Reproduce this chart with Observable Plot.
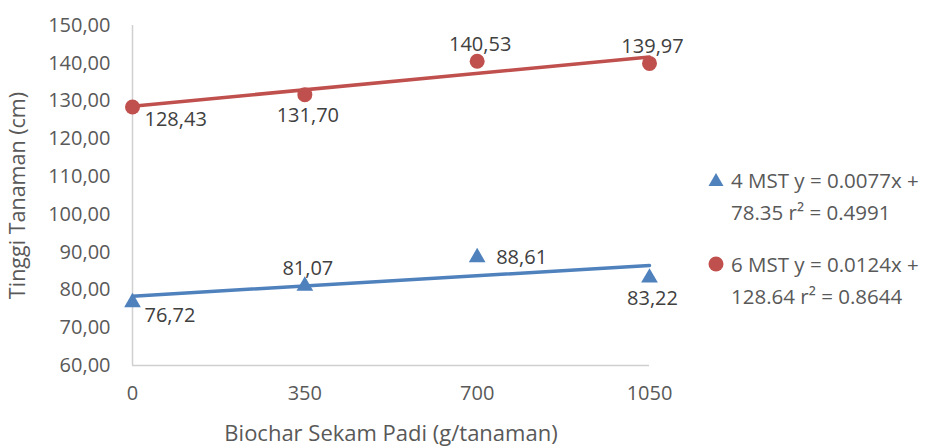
<!DOCTYPE html>
<html>
<head>
<meta charset="utf-8">
<script src="https://cdn.jsdelivr.net/npm/d3@7"></script>
<script src="https://cdn.jsdelivr.net/npm/@observablehq/plot@0.6"></script>
<style>
  html, body { margin: 0; padding: 0; background: #fff; }
  #wrap { position: relative; width: 926px; height: 448px; font-family: "Open Sans", sans-serif; }
  #legend { position: absolute; left: 708px; top: 164px; color: #595959; font-size: 20.5px; line-height: 32px; white-space: nowrap; }
  .item { position: relative; padding-left: 23px; margin-bottom: 20px; }
  .sym { position: absolute; left: 0; top: 8px; }
</style>
</head>
<body>
<div id="wrap"></div>
<script>
// ---- data ----
const doses = [0, 350, 700, 1050];                 // Biochar Sekam Padi (g/tanaman)
const mst4 = [76.72, 81.07, 88.61, 83.22];         // 4 MST
const mst6 = [128.43, 131.70, 140.53, 139.97];     // 6 MST
const seriesNames = ["4 MST", "6 MST"];
const legendTexts = ["4 MST y = 0.0077x +\n78.35 r\u00B2 = 0.4991", "6 MST y = 0.0124x +\n128.64 r\u00B2 = 0.8644"];
const yTicks = [60, 70, 80, 90, 100, 110, 120, 130, 140, 150];

// label placement (style only)
const place4 = ["belowright", "above", "right", "below"];
const place6 = ["belowright", "below", "above", "above"];

const blue = "#4F81BD", red = "#C0504D", grey = "#595959";

const rows = [];
doses.forEach((d, i) => {
  rows.push({x: d, y: mst4[i], s: seriesNames[0], place: place4[i]});
  rows.push({x: d, y: mst6[i], s: seriesNames[1], place: place6[i]});
});
const r4 = rows.filter(r => r.s === seriesNames[0]);
const r6 = rows.filter(r => r.s === seriesNames[1]);

const fmt = d3.formatLocale({decimal: ",", thousands: ".", grouping: [3], currency: ["", ""]}).format(".2f");

const labelMarks = [];
const placeOpts = {
  above: {textAnchor: "middle", dx: 3, dy: -17},
  below: {textAnchor: "middle", dx: 3, dy: 21},
  right: {textAnchor: "start", dx: 19, dy: 0},
  belowright: {textAnchor: "start", dx: 12, dy: 13}
};
for (const [p, o] of Object.entries(placeOpts)) {
  labelMarks.push(Plot.text(rows.filter(r => r.place === p), {
    x: "x", y: "y", text: d => fmt(d.y), fill: "#404040", fontSize: 20, ...o
  }));
}

const chart = Plot.plot({
  width: 926,
  height: 448,
  marginLeft: 132,
  marginRight: 277,
  marginTop: 25,
  marginBottom: 83,
  style: {fontFamily: "Open Sans, sans-serif", fontSize: "20px", color: grey, background: "#fff"},
  x: {domain: [0, 1050], ticks: doses, tickFormat: d => String(d), tickSize: 0, tickPadding: 20, label: null},
  y: {domain: [60, 150], ticks: yTicks, tickFormat: fmt, tickSize: 0, tickPadding: 22, label: null},
  marks: [
    Plot.ruleX([0], {stroke: "#D0D0D0", strokeWidth: 1.5}),
    Plot.ruleY([60], {stroke: "#D0D0D0", strokeWidth: 1.5}),
    Plot.linearRegressionY(r4, {x: "x", y: "y", stroke: blue, strokeWidth: 3.5, ci: 0}),
    Plot.linearRegressionY(r6, {x: "x", y: "y", stroke: red, strokeWidth: 3.5, ci: 0}),
    Plot.dot(r4, {x: "x", y: "y", symbol: "triangle", r: 6.2, fill: blue}),
    Plot.dot(r6, {x: "x", y: "y", symbol: "circle", r: 7.5, fill: red}),
    ...labelMarks,
    Plot.text(["Tinggi Tanaman (cm)"], {frameAnchor: "left", textAnchor: "middle", dx: -114, rotate: -90, fontSize: 21.5, fill: grey}),
    Plot.text(["Biochar Sekam Padi (g/tanaman)"], {frameAnchor: "bottom", dy: 75, fontSize: 22, fill: grey})
  ]
});
const wrap = document.getElementById("wrap");
wrap.appendChild(chart);

// legend
const legend = document.createElement("div");
legend.id = "legend";
const syms = [
  `<svg class="sym" width="16" height="16" viewBox="0 0 16 16"><polygon points="8,1 15.5,14 0.5,14" fill="${blue}"/></svg>`,
  `<svg class="sym" width="16" height="16" viewBox="0 0 16 16"><circle cx="8" cy="8" r="7.5" fill="${red}"/></svg>`
];
legendTexts.forEach((t, i) => {
  const it = document.createElement("div");
  it.className = "item";
  it.innerHTML = syms[i] + t.split("\n").join("<br>");
  legend.appendChild(it);
});
wrap.appendChild(legend);
</script>
</body>
</html>
